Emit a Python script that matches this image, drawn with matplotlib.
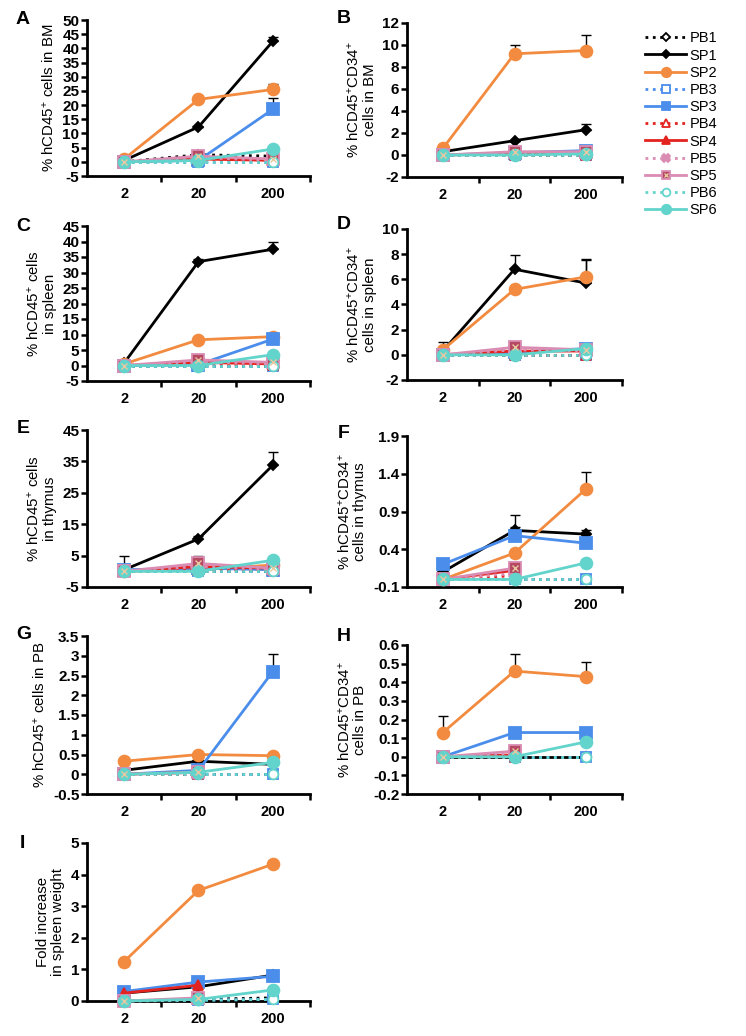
import numpy as np
import matplotlib
matplotlib.use("Agg")
import matplotlib.pyplot as plt
from matplotlib.lines import Line2D
from matplotlib.legend_handler import HandlerTuple

plt.rcParams['font.family'] = ['Liberation Sans', 'DejaVu Sans']
plt.rcParams['mathtext.fontset'] = 'custom'
plt.rcParams['mathtext.rm'] = 'Liberation Sans'
plt.rcParams['mathtext.it'] = 'Liberation Sans:italic'
plt.rcParams['mathtext.bf'] = 'Liberation Sans:bold'

nan = np.nan

# Cell doses on the x axis
doses = ['2', '20', '200']
series = ['PB1', 'SP1', 'SP2', 'PB3', 'SP3', 'PB4', 'SP4', 'PB5', 'SP5', 'PB6', 'SP6']

# A: % hCD45+ cells in BM
bm_cd45 = {
    'PB1': [0, 2.5, 2.0], 'SP1': [0.5, 12.3, 42.5], 'SP2': [1.0, 22.0, 25.5],
    'PB3': [0, 0, 0], 'SP3': [0, 0.5, 18.5], 'PB4': [0, 1.0, 0.5], 'SP4': [0, 1.0, 0.5],
    'PB5': [0, 1.5, 0.5], 'SP5': [0, 2.0, 1.0], 'PB6': [0, 0, 0], 'SP6': [0, 0.5, 4.5],
}
bm_cd45_err = {'SP1': [0, 0, 1.5], 'SP2': [0, 0, 2.0], 'SP3': [0, 0, 4.0]}

# B: % hCD45+CD34+ cells in BM
bm_cd34 = {
    'PB1': [0, 0, 0], 'SP1': [0.3, 1.3, 2.3], 'SP2': [0.6, 9.2, 9.5],
    'PB3': [0, 0, 0], 'SP3': [0, 0.2, 0.4], 'PB4': [0, 0, 0], 'SP4': [0, 0.1, 0.2],
    'PB5': [0, 0.1, 0.1], 'SP5': [0, 0.3, 0.3], 'PB6': [0, 0, 0], 'SP6': [0, 0, 0.1],
}
bm_cd34_err = {'SP1': [0, 0, 0.5], 'SP2': [0, 0.8, 1.4]}

# C: % hCD45+ cells in spleen
sp_cd45 = {
    'PB1': [0, 0, 0], 'SP1': [0.8, 33.5, 37.5], 'SP2': [0.5, 8.3, 9.3],
    'PB3': [0, 0, 0], 'SP3': [0, 0.3, 8.5], 'PB4': [0, 0.5, 0.3], 'SP4': [0, 1.0, 0.5],
    'PB5': [0, 1.0, 0.5], 'SP5': [0, 1.8, 1.0], 'PB6': [0, 0, 0], 'SP6': [0, 0, 3.5],
}
sp_cd45_err = {'SP1': [0, 1.0, 2.5], 'SP3': [0, 0, 1.5]}

# D: % hCD45+CD34+ cells in spleen
sp_cd34 = {
    'PB1': [0, 0, 0], 'SP1': [0.3, 6.8, 5.7], 'SP2': [0.4, 5.2, 6.2],
    'PB3': [0, 0, 0], 'SP3': [0, 0.2, 0.5], 'PB4': [0, 0, 0], 'SP4': [0, 0.3, 0.3],
    'PB5': [0, 0.4, 0.3], 'SP5': [0, 0.6, 0.4], 'PB6': [0, 0, 0], 'SP6': [0, 0, 0.5],
}
sp_cd34_err = {'SP1': [0.7, 1.1, 1.9], 'SP2': [0, 0, 1.3]}

# E: % hCD45+ cells in thymus
th_cd45 = {
    'PB1': [0, 0, 0], 'SP1': [0.5, 10.3, 33.8], 'SP2': [0, 0.5, 2.0],
    'PB3': [0, 0, 0], 'SP3': [0.5, 1.0, 0.5], 'PB4': [0, 0.5, 0.5], 'SP4': [0, 1.5, 1.0],
    'PB5': [0, 1.5, 0.5], 'SP5': [0, 2.5, 1.0], 'PB6': [0, 0, 0], 'SP6': [0, 0, 3.5],
}
th_cd45_err = {'SP1': [0, 1.0, 4.2], 'SP3': [4.5, 0, 0], 'SP5': [0, 2.5, 0]}

# F: % hCD45+CD34+ cells in thymus
th_cd34 = {
    'PB1': [0, 0, 0], 'SP1': [0.1, 0.65, 0.6], 'SP2': [0, 0.35, 1.2],
    'PB3': [0, 0, 0], 'SP3': [0.2, 0.58, 0.48], 'PB4': [0, 0.05, nan], 'SP4': [0, 0.12, nan],
    'PB5': [0, 0.08, nan], 'SP5': [0, 0.15, nan], 'PB6': [0, 0, 0], 'SP6': [0, 0, 0.22],
}
th_cd34_err = {'SP1': [0, 0.2, 0.05], 'SP3': [0, 0.12, 0], 'SP2': [0, 0, 0.22]}

# G: % hCD45+ cells in PB
pb_cd45 = {
    'PB1': [0, 0, 0], 'SP1': [0.1, 0.33, 0.25], 'SP2': [0.33, 0.5, 0.47],
    'PB3': [0, 0, 0], 'SP3': [0, 0.1, 2.6], 'PB4': [0, 0, nan], 'SP4': [0, 0.05, nan],
    'PB5': [0, 0.02, nan], 'SP5': [0, 0.05, nan], 'PB6': [0, 0, 0], 'SP6': [0, 0.05, 0.3],
}
pb_cd45_err = {'SP3': [0, 0, 0.45]}

# H: % hCD45+CD34+ cells in PB
pb_cd34 = {
    'PB1': [0, 0, 0], 'SP1': [0, 0, 0], 'SP2': [0.13, 0.46, 0.43],
    'PB3': [0, 0, 0], 'SP3': [0, 0.13, 0.13], 'PB4': [0, 0, nan], 'SP4': [0, 0.01, nan],
    'PB5': [0, 0.02, nan], 'SP5': [0, 0.03, nan], 'PB6': [0, 0, 0], 'SP6': [0, 0, 0.08],
}
pb_cd34_err = {'SP2': [0.09, 0.09, 0.08]}

# I: fold increase in spleen weight
spleen_wt = {
    'PB1': [0, 0.05, 0.1], 'SP1': [0.25, 0.45, 0.82], 'SP2': [1.25, 3.5, 4.33],
    'PB3': [0, 0.03, 0.05], 'SP3': [0.3, 0.6, 0.78], 'PB4': [0, 0.05, nan], 'SP4': [0.25, 0.5, nan],
    'PB5': [0, 0.05, nan], 'SP5': [0, 0.1, nan], 'PB6': [0, 0.02, 0.05], 'SP6': [0, 0.05, 0.35],
}
spleen_wt_err = {'SP1': [0, 0, 0.08]}

# line / marker styles
black, orange, blue = '#000000', '#F28B3F', '#4A8DEB'
red, pink, cyan = '#E3231F', '#DA8CB3', '#62D4CB'
styles = {
    'PB1': dict(color=black, ls=':', marker='D', mfc='white', ms=5.5),
    'SP1': dict(color=black, ls='-', marker='D', mfc=black, ms=5.5),
    'SP2': dict(color=orange, ls='-', marker='o', mfc=orange, ms=8.5),
    'PB3': dict(color=blue, ls=':', marker='s', mfc='white', ms=7),
    'SP3': dict(color=blue, ls='-', marker='s', mfc=blue, ms=8),
    'PB4': dict(color=red, ls=':', marker='^', mfc='white', ms=6.5),
    'SP4': dict(color=red, ls='-', marker='^', mfc=red, ms=7.5),
    'PB5': dict(color=pink, ls=':', marker='X', mfc=pink, ms=8),
    'SP5': dict(color=pink, ls='-', marker='s', mfc='#B54A62', ms=8),
    'PB6': dict(color=cyan, ls=':', marker='o', mfc='white', ms=7),
    'SP6': dict(color=cyan, ls='-', marker='o', mfc=cyan, ms=8.5),
}

fig = plt.figure(figsize=(7.46, 10.36), dpi=100)
W, H = 746.0, 1036.0


def rect(x0, x1, top, bottom):
    return [x0 / W, 1 - bottom / H, (x1 - x0) / W, (bottom - top) / H]


def panel(r, letter, lpos, data, errs, yticks, ylabel):
    ax = fig.add_axes(r)
    x = np.arange(len(doses))
    for name in series:
        st = styles[name]
        y = np.array(data[name], float)
        if name in errs:
            e = np.array(errs[name], float)
            ax.errorbar(x, y, yerr=[np.zeros(3), e], fmt='none', ecolor='black',
                        elinewidth=1, capsize=3.5, capthick=1, zorder=2, clip_on=False)
        ax.plot(x, y, color=st['color'], ls=st['ls'], lw=2, marker=st['marker'],
                mfc=st['mfc'], mec=st['color'], mew=1.3, ms=st['ms'],
                zorder=3, clip_on=False)
        if name == 'SP5':
            ax.plot(x, y, ls='none', marker='x', color='#E8C8A0', ms=4.5, mew=1,
                    zorder=3.5, clip_on=False)
    ax.set_xlim(-0.5, 2.5)
    ax.set_ylim(yticks[0], yticks[-1])
    ax.set_yticks(yticks)
    ax.set_yticklabels(['%g' % t for t in yticks], fontsize=11, fontweight='bold')
    ax.set_xticks(x)
    ax.set_xticklabels(doses, fontsize=10.5, fontweight='bold')
    ax.set_xticks([0.5, 1.5, 2.5], minor=True)
    ax.tick_params(axis='x', which='major', length=0, pad=8)
    ax.tick_params(axis='x', which='minor', length=4, width=1.8, direction='out')
    ax.tick_params(axis='y', length=4, width=1.8, direction='out', pad=1.5)
    ax.spines['top'].set_visible(False)
    ax.spines['right'].set_visible(False)
    ax.spines['left'].set_linewidth(2)
    ax.spines['bottom'].set_linewidth(2)
    ax.set_ylabel(ylabel, fontsize=10.8, linespacing=1.1, labelpad=4)
    fig.text(lpos[0] / W, 1 - lpos[1] / H, letter, fontsize=14, fontweight='bold',
             ha='left', va='top')
    return ax


L0, L1 = 87, 310
R0, R1 = 407, 622
cd45 = r'% hCD45$^{+}$'
cd34 = r'% hCD45$^{+}$CD34$^{+}$'

panel(rect(L0, L1, 20, 176), 'A', (16, 11), bm_cd45, bm_cd45_err,
      [-5, 0, 5, 10, 15, 20, 25, 30, 35, 40, 45, 50], cd45 + ' cells in BM')
panel(rect(R0, R1, 23, 177), 'B', (337, 10), bm_cd34, bm_cd34_err,
      [-2, 0, 2, 4, 6, 8, 10, 12], cd34 + '\ncells in BM')
panel(rect(L0, L1, 226, 381), 'C', (16, 218), sp_cd45, sp_cd45_err,
      [-5, 0, 5, 10, 15, 20, 25, 30, 35, 40, 45], cd45 + ' cells\nin spleen')
panel(rect(R0, R1, 229, 380), 'D', (337, 216), sp_cd34, sp_cd34_err,
      [-2, 0, 2, 4, 6, 8, 10], cd34 + '\ncells in spleen')
panel(rect(L0, L1, 430, 587), 'E', (17, 420), th_cd45, th_cd45_err,
      [-5, 5, 15, 25, 35, 45], cd45 + ' cells\nin thymus')
panel(rect(R0, R1, 436, 587), 'F', (338, 425), th_cd34, th_cd34_err,
      [-0.1, 0.4, 0.9, 1.4, 1.9], cd34 + '\ncells in thymus')
panel(rect(L0, L1, 636, 794), 'G', (16, 626), pb_cd45, pb_cd45_err,
      [-0.5, 0, 0.5, 1, 1.5, 2, 2.5, 3, 3.5], cd45 + ' cells in PB')
panel(rect(R0, R1, 645, 794), 'H', (337, 628), pb_cd34, pb_cd34_err,
      [-0.2, -0.1, 0, 0.1, 0.2, 0.3, 0.4, 0.5, 0.6], cd34 + '\ncells in PB')
panel(rect(L0, L1, 843, 1001), 'I', (20, 835), spleen_wt, spleen_wt_err,
      [0, 1, 2, 3, 4, 5], 'Fold increase\nin spleen weight')

# legend
handles = []
for name in series:
    st = styles[name]
    h = Line2D([], [], color=st['color'], ls=st['ls'], lw=2, marker=st['marker'],
               mfc=st['mfc'], mec=st['color'], mew=1.3, ms=st['ms'] * 0.8)
    if name == 'SP5':
        hx = Line2D([], [], ls='none', marker='x', color='#E8C8A0', ms=3.5, mew=1)
        h = (h, hx)
    handles.append(h)
fig.legend(handles, series, loc='upper left', bbox_to_anchor=(638 / W, 1 - 24 / H),
           frameon=False, fontsize=10.5, handlelength=2.8, handletextpad=0.25,
           labelspacing=0.22, borderpad=0, numpoints=1,
           handler_map={tuple: HandlerTuple(ndivide=1, pad=0)})

fig.savefig('out.png', dpi=100)
